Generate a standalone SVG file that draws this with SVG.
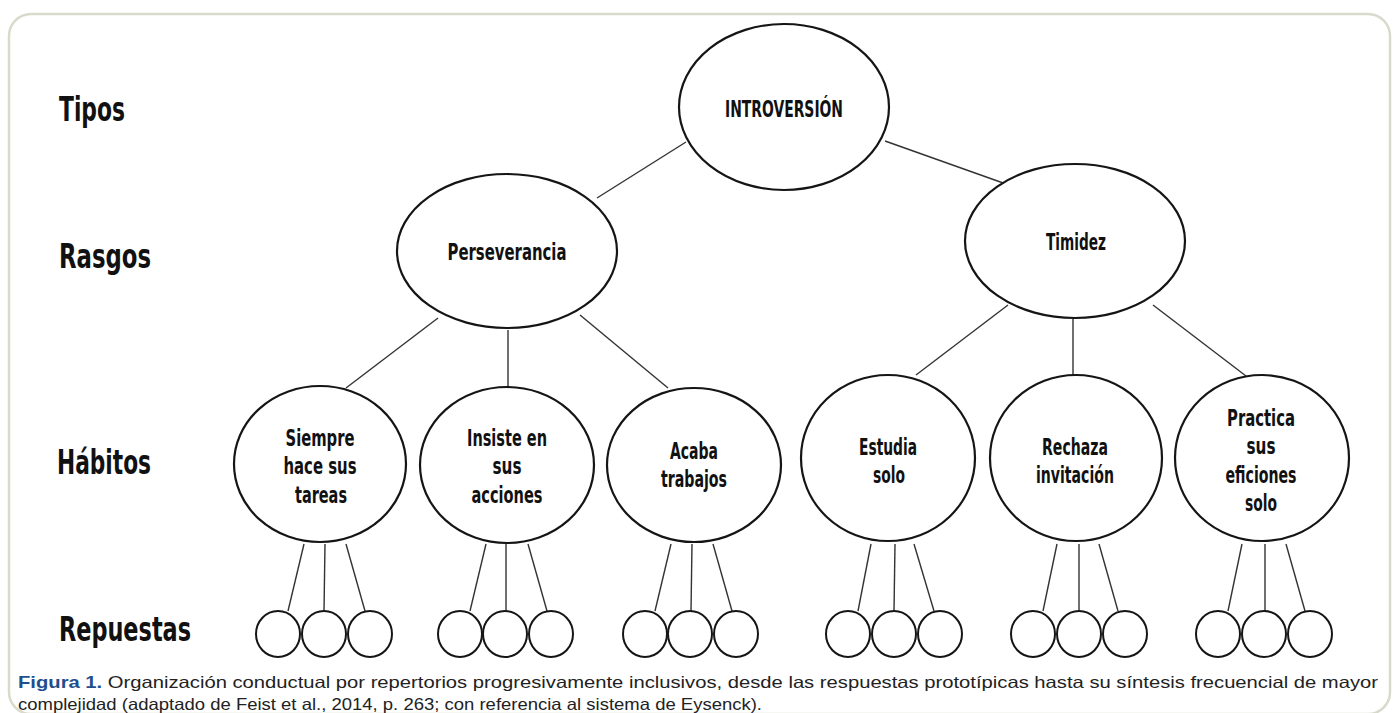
<svg xmlns="http://www.w3.org/2000/svg" width="1394" height="713" viewBox="0 0 1394 713">
<style>
.frame{fill:#ffffff;stroke:#d9d9cc;stroke-width:2.5}
.node{fill:#ffffff;stroke:#151515;stroke-width:2.2}
.resp{fill:#ffffff;stroke:#151515;stroke-width:2}
.conn line{stroke:#333333;stroke-width:1.4}
.lbl{font-family:'Liberation Sans Narrow','DejaVu Sans Condensed','Liberation Sans',sans-serif;font-stretch:condensed;font-weight:bold;fill:#111111}
.lvl{font-size:33px}
.nt{font-size:23px;text-anchor:middle}
.cap{font-family:'Liberation Sans','Open Sans',sans-serif;font-size:16.5px;fill:#222222}
.fig{font-weight:bold;fill:#1f4e8c}
</style>
<rect class="frame" x="9" y="14" width="1381" height="700" rx="22" ry="22"/>

<g id="level-labels">
<text class="lbl lvl" x="59" y="121" textLength="66" lengthAdjust="spacingAndGlyphs">Tipos</text>
<text class="lbl lvl" x="59" y="268" textLength="92" lengthAdjust="spacingAndGlyphs">Rasgos</text>
<text class="lbl lvl" x="57" y="474" textLength="94" lengthAdjust="spacingAndGlyphs">Hábitos</text>
<text class="lbl lvl" x="59" y="641" textLength="132" lengthAdjust="spacingAndGlyphs">Repuestas</text>
</g>

<g id="connectors" class="conn">
<line x1="686" y1="142" x2="597" y2="198"/>
<line x1="885" y1="141" x2="1006" y2="184"/>
<line x1="438" y1="318" x2="346" y2="388"/>
<line x1="508" y1="330" x2="508" y2="387"/>
<line x1="580" y1="315" x2="668" y2="388"/>
<line x1="1008" y1="305" x2="916" y2="375"/>
<line x1="1073" y1="318" x2="1073" y2="375"/>
<line x1="1153" y1="305" x2="1246" y2="376"/>
<line x1="304" y1="544" x2="288" y2="611"/>
<line x1="325" y1="544" x2="324" y2="611"/>
<line x1="346" y1="544" x2="365" y2="611"/>
<line x1="486" y1="544" x2="470" y2="611"/>
<line x1="506" y1="544" x2="506" y2="611"/>
<line x1="528" y1="544" x2="547" y2="611"/>
<line x1="671" y1="544" x2="655" y2="611"/>
<line x1="692" y1="544" x2="691" y2="611"/>
<line x1="713" y1="544" x2="732" y2="611"/>
<line x1="871" y1="544" x2="858" y2="611"/>
<line x1="895" y1="544" x2="894" y2="611"/>
<line x1="914" y1="544" x2="934" y2="611"/>
<line x1="1057" y1="544" x2="1043" y2="611"/>
<line x1="1079" y1="544" x2="1079" y2="611"/>
<line x1="1099" y1="544" x2="1118" y2="611"/>
<line x1="1242" y1="544" x2="1228" y2="611"/>
<line x1="1265" y1="544" x2="1265" y2="611"/>
<line x1="1286" y1="544" x2="1305" y2="611"/>
</g>

<g id="introversion">
<ellipse class="node" cx="784" cy="107" rx="105" ry="83"/>
<text class="lbl nt" x="784" y="117" textLength="118" lengthAdjust="spacingAndGlyphs">INTROVERSIÓN</text>
</g>
<g id="perseverancia">
<ellipse class="node" cx="507" cy="251" rx="110" ry="77"/>
<text class="lbl nt" x="507" y="260" textLength="119" lengthAdjust="spacingAndGlyphs">Perseverancia</text>
</g>
<g id="timidez">
<ellipse class="node" cx="1075" cy="241" rx="110" ry="77"/>
<text class="lbl nt" x="1076" y="250" textLength="60" lengthAdjust="spacingAndGlyphs">Timidez</text>
</g>

<g id="siempre">
<ellipse class="node" cx="320" cy="464" rx="86" ry="78"/>
<text class="lbl nt" x="320" y="446" textLength="69" lengthAdjust="spacingAndGlyphs">Siempre</text>
<text class="lbl nt" x="320" y="474" textLength="73" lengthAdjust="spacingAndGlyphs">hace sus</text>
<text class="lbl nt" x="321" y="503" textLength="52" lengthAdjust="spacingAndGlyphs">tareas</text>
</g>
<g id="insiste">
<ellipse class="node" cx="507" cy="465" rx="87" ry="78"/>
<text class="lbl nt" x="507" y="446" textLength="80" lengthAdjust="spacingAndGlyphs">Insiste en</text>
<text class="lbl nt" x="507" y="474" textLength="29" lengthAdjust="spacingAndGlyphs">sus</text>
<text class="lbl nt" x="507" y="503" textLength="71" lengthAdjust="spacingAndGlyphs">acciones</text>
</g>
<g id="acaba">
<ellipse class="node" cx="694" cy="465" rx="87" ry="77"/>
<text class="lbl nt" x="694" y="459" textLength="48" lengthAdjust="spacingAndGlyphs">Acaba</text>
<text class="lbl nt" x="694" y="487" textLength="66" lengthAdjust="spacingAndGlyphs">trabajos</text>
</g>
<g id="estudia">
<ellipse class="node" cx="888" cy="458" rx="87" ry="83"/>
<text class="lbl nt" x="888" y="455" textLength="58" lengthAdjust="spacingAndGlyphs">Estudia</text>
<text class="lbl nt" x="889" y="483" textLength="32" lengthAdjust="spacingAndGlyphs">solo</text>
</g>
<g id="rechaza">
<ellipse class="node" cx="1076" cy="458" rx="86" ry="83"/>
<text class="lbl nt" x="1075" y="455" textLength="66" lengthAdjust="spacingAndGlyphs">Rechaza</text>
<text class="lbl nt" x="1075" y="483" textLength="78" lengthAdjust="spacingAndGlyphs">invitación</text>
</g>
<g id="practica">
<ellipse class="node" cx="1262" cy="458" rx="87" ry="83"/>
<text class="lbl nt" x="1261" y="426" textLength="68" lengthAdjust="spacingAndGlyphs">Practica</text>
<text class="lbl nt" x="1261" y="454" textLength="29" lengthAdjust="spacingAndGlyphs">sus</text>
<text class="lbl nt" x="1261" y="483" textLength="71" lengthAdjust="spacingAndGlyphs">eficiones</text>
<text class="lbl nt" x="1261" y="511" textLength="32" lengthAdjust="spacingAndGlyphs">solo</text>
</g>

<g id="respuestas">
<ellipse class="resp" cx="278" cy="634" rx="22" ry="23"/>
<ellipse class="resp" cx="324" cy="634" rx="22" ry="23"/>
<ellipse class="resp" cx="370" cy="634" rx="22" ry="23"/>
<ellipse class="resp" cx="460" cy="634" rx="22" ry="23"/>
<ellipse class="resp" cx="505" cy="634" rx="22" ry="23"/>
<ellipse class="resp" cx="551" cy="634" rx="22" ry="23"/>
<ellipse class="resp" cx="645" cy="634" rx="22" ry="23"/>
<ellipse class="resp" cx="690" cy="634" rx="22" ry="23"/>
<ellipse class="resp" cx="736" cy="634" rx="22" ry="23"/>
<ellipse class="resp" cx="848" cy="634" rx="22" ry="23"/>
<ellipse class="resp" cx="894" cy="634" rx="22" ry="23"/>
<ellipse class="resp" cx="940" cy="634" rx="22" ry="23"/>
<ellipse class="resp" cx="1033" cy="634" rx="22" ry="23"/>
<ellipse class="resp" cx="1079" cy="634" rx="22" ry="23"/>
<ellipse class="resp" cx="1125" cy="634" rx="22" ry="23"/>
<ellipse class="resp" cx="1218" cy="634" rx="22" ry="23"/>
<ellipse class="resp" cx="1264" cy="634" rx="22" ry="23"/>
<ellipse class="resp" cx="1310" cy="634" rx="22" ry="23"/>
</g>

<g id="caption">
<text class="cap" x="18" y="688" textLength="1360" lengthAdjust="spacingAndGlyphs"><tspan class="fig">Figura 1.</tspan> Organización conductual por repertorios progresivamente inclusivos, desde las respuestas prototípicas hasta su síntesis frecuencial de mayor</text>
<text class="cap" x="18" y="710" textLength="744" lengthAdjust="spacingAndGlyphs">complejidad (adaptado de Feist et al., 2014, p. 263; con referencia al sistema de Eysenck).</text>
</g>
</svg>
